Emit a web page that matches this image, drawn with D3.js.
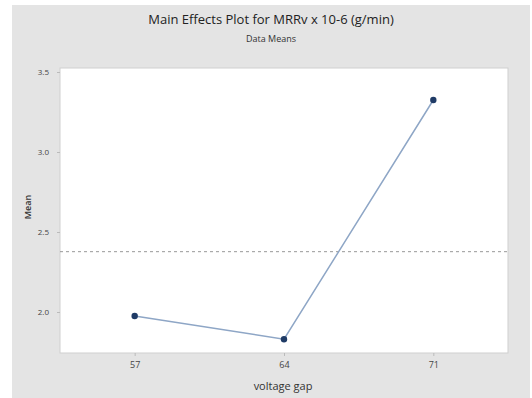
<!DOCTYPE html>
<html><head><meta charset="utf-8">
<script src="https://cdn.jsdelivr.net/npm/d3@7"></script>
<style>body{margin:0;background:#fff}svg{display:block}text{font-family:"Open Sans","DejaVu Sans",sans-serif}</style>
</head><body>
<script>
const categories = ["57", "64", "71"];
const means = [1.975, 1.83, 3.325];
const yTicks = [2.0, 2.5, 3.0, 3.5];
const overallMean = 2.377;

const W = 532, H = 398;
const svg = d3.select("body").append("svg").attr("width", W).attr("height", H);
svg.append("rect").attr("x", 12).attr("y", 5).attr("width", 518).attr("height", 393).attr("fill", "#e4e4e4");

const L = 60, R = 508, T = 68, B = 353;
svg.append("rect").attr("x", L).attr("y", T).attr("width", R - L).attr("height", B - T)
  .attr("fill", "#fff").attr("stroke", "#cfcfcf").attr("stroke-width", 1);

const x = d3.scalePoint().domain(categories).range([L, R]).padding(0.5);
const y = d3.scaleLinear().domain([1.74375, 3.525]).range([B, T]);

svg.append("g").attr("transform", `translate(0,${B})`)
  .call(d3.axisBottom(x).tickSize(3).tickPadding(6))
  .call(g => g.select(".domain").remove())
  .call(g => g.selectAll("line").attr("stroke", "#bbb"))
  .call(g => g.selectAll("text").attr("font-size", 9).attr("fill", "#444"));

svg.append("g").attr("transform", `translate(${L},0)`)
  .call(d3.axisLeft(y).tickValues(yTicks).tickFormat(d3.format(".1f")).tickSize(3).tickPadding(8))
  .call(g => g.select(".domain").remove())
  .call(g => g.selectAll("line").attr("stroke", "#bbb"))
  .call(g => g.selectAll("text").attr("font-size", 8).attr("fill", "#444"));

svg.append("line").attr("x1", L).attr("x2", R).attr("y1", y(overallMean)).attr("y2", y(overallMean))
  .attr("stroke", "#999").attr("stroke-width", 1).attr("stroke-dasharray", "3,3");

const pts = categories.map((c, i) => [x(c), y(means[i])]);
svg.append("path").attr("d", d3.line()(pts)).attr("fill", "none")
  .attr("stroke", "#8ea6c6").attr("stroke-width", 1.5);
svg.selectAll("circle.pt").data(pts).join("circle").attr("class", "pt")
  .attr("cx", d => d[0]).attr("cy", d => d[1]).attr("r", 3.2).attr("fill", "#1f3b66");

svg.append("text").attr("x", 271).attr("y", 24).attr("text-anchor", "middle")
  .attr("font-size", 13).attr("fill", "#222").text("Main Effects Plot for MRRv x 10-6 (g/min)");
svg.append("text").attr("x", 271).attr("y", 42).attr("text-anchor", "middle")
  .attr("font-size", 9).attr("fill", "#333").text("Data Means");
svg.append("text").attr("x", 283).attr("y", 390).attr("text-anchor", "middle")
  .attr("font-size", 11).attr("fill", "#333").text("voltage gap");
svg.append("text").attr("transform", "translate(31,207) rotate(-90)").attr("text-anchor", "middle")
  .attr("font-size", 9).attr("font-weight", 600).attr("fill", "#333").text("Mean");
</script>
</body></html>
